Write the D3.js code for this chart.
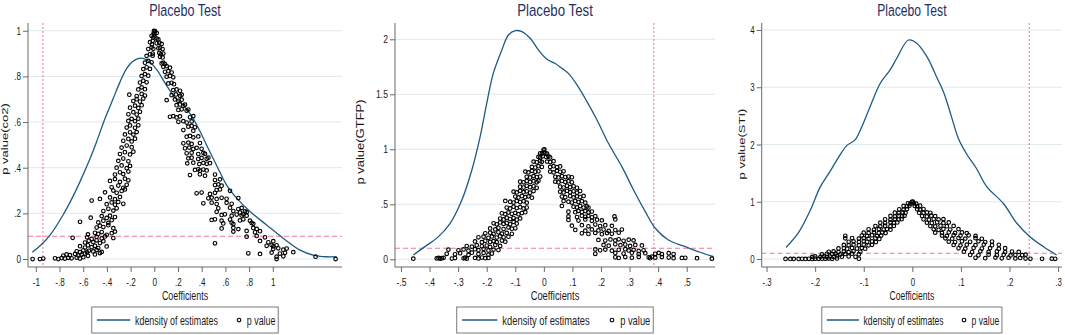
<!DOCTYPE html>
<html>
<head>
<meta charset="utf-8">
<script src="https://cdn.jsdelivr.net/npm/d3@7/dist/d3.min.js"></script>
<style>
  body { margin: 0; background: #fff; }
  text { font-family: "Liberation Sans", Arial, sans-serif; }
</style>
</head>
<body>
<div id="chart"></div>
<script>
//Titles
const plotTitles = ["Placebo Test", "Placebo Test", "Placebo Test"];
const yTitles = ["p value(co2)", "p value(GTFP)", "p value(STI)"];
const xTitle = "Coefficients";
const legendLabels = ["kdensity of estimates", "p value"];

//Ticks
const xTicks1 = [-1, -0.8, -0.6, -0.4, -0.2, 0, 0.2, 0.4, 0.6, 0.8, 1];
const xTicks2 = [-0.5, -0.4, -0.3, -0.2, -0.1, 0, 0.1, 0.2, 0.3, 0.4, 0.5];
const xTicks3 = [-0.3, -0.2, -0.1, 0, 0.1, 0.2, 0.3];
const yTicks1 = [0, 0.2, 0.4, 0.6, 0.8, 1];
const yTicks2 = [0, 0.5, 1, 1.5, 2];
const yTicks3 = [0, 1, 2, 3, 4];

//Reference lines (true coefficient, 10% level)
const trueCoef = [-0.94, 0.385, 0.2406];
const pCut = 0.1;

//Kernel density of placebo estimates: [coef, density]
const curve1 = [[-1.03,0.03],[-0.95,0.065],[-0.88,0.105],[-0.77,0.193],[-0.7,0.26],[-0.627,0.339],[-0.55,0.43],
  [-0.487,0.514],[-0.42,0.61],[-0.346,0.704],[-0.29,0.775],[-0.233,0.835],[-0.19,0.862],[-0.149,0.876],[-0.093,0.879],
  [-0.037,0.862],[0.02,0.83],[0.104,0.76],[0.17,0.71],[0.245,0.674],[0.31,0.63],[0.385,0.56],[0.45,0.49],[0.526,0.41],
  [0.61,0.324],[0.71,0.258],[0.81,0.207],[0.948,0.149],[1.09,0.09],[1.23,0.039],[1.34,0.0175],[1.45,0.01],[1.54,0.01]];
const curve2 = [[-0.457,0.039],[-0.416,0.115],[-0.369,0.206],[-0.328,0.327],[-0.287,0.539],[-0.252,0.812],[-0.223,1.115],
  [-0.2,1.418],[-0.177,1.69],[-0.147,1.903],[-0.124,2.039],[-0.1,2.078],[-0.077,2.07],[-0.048,2.009],[-0.019,1.903],
  [0.011,1.818],[0.04,1.78],[0.063,1.736],[0.086,1.69],[0.116,1.585],[0.151,1.433],[0.186,1.266],[0.226,1.055],
  [0.273,0.842],[0.314,0.63],[0.355,0.433],[0.39,0.282],[0.436,0.175],[0.495,0.115],[0.547,0.064],[0.594,0.024]];
const curve3 = [[-0.26,0.2],[-0.235,0.45],[-0.21,0.85],[-0.19,1.25],[-0.17,1.52],[-0.15,1.8],[-0.135,1.98],[-0.118,2.08],
  [-0.104,2.31],[-0.087,2.66],[-0.066,3.07],[-0.046,3.3],[-0.032,3.506],[-0.008,3.825],[0.009,3.77],[0.03,3.534],
  [0.05,3.18],[0.065,2.9],[0.08,2.5],[0.095,2.1],[0.112,1.83],[0.132,1.58],[0.153,1.263],[0.187,0.973],[0.215,0.624],
  [0.242,0.39],[0.27,0.215],[0.297,0.07]];

//p values of placebo estimates: [coef, p]
const points1 = [
  [-1.027,0],[-0.965,0],[-0.937,0.002],[-0.838,0.003],[-0.81,0],[-0.782,0.004],[-0.754,0.002],[-0.726,0.005],[-0.698,0.003],[-0.655,0.006],[-0.627,0.002],[-0.599,0.008],
  [-0.768,0.015],[-0.74,0.02],[-0.712,0.017],[-0.669,0.022],[-0.641,0.015],[-0.613,0.019],[-0.585,0.024],[-0.56,0.014],[-0.501,0.02],[-0.459,0.026],
  [-0.655,0.034],[-0.627,0.03],[-0.599,0.038],[-0.567,0.029],[-0.553,0.036],[-0.515,0.033],[-0.487,0.04],[-0.444,0.031],
  [-0.627,0.056],[-0.585,0.05],[-0.56,0.06],[-0.529,0.052],[-0.501,0.058],[-0.473,0.048],[-0.402,0.055],
  [-0.585,0.072],[-0.553,0.08],[-0.515,0.074],[-0.487,0.082],[-0.459,0.07],[-0.43,0.078],
  [-0.689,0.093],[-0.567,0.095],[-0.529,0.088],[-0.487,0.097],[-0.444,0.09],[-0.416,0.099],[-0.346,0.092],
  [-0.56,0.108],[-0.501,0.115],[-0.473,0.11],[-0.444,0.118],[-0.402,0.106],[-0.36,0.113],[-0.332,0.12],
  [-0.487,0.138],[-0.459,0.146],[-0.43,0.14],[-0.388,0.148],[-0.346,0.135],
  [-0.627,0.163],[-0.473,0.16],[-0.43,0.168],[-0.388,0.158],[-0.36,0.17],
  [-0.537,0.181],[-0.444,0.188],[-0.402,0.18],[-0.374,0.19],[-0.332,0.184],
  [-0.43,0.21],[-0.388,0.22],[-0.346,0.212],[-0.318,0.222],
  [-0.402,0.24],[-0.36,0.248],[-0.332,0.238],[-0.304,0.25],[-0.262,0.242],
  [-0.529,0.256],[-0.459,0.263],[-0.374,0.27],[-0.332,0.262],[-0.29,0.272],
  [-0.416,0.292],[-0.346,0.3],[-0.318,0.29],[-0.276,0.298],[-0.248,0.305],
  [-0.36,0.314],[-0.304,0.322],[-0.262,0.312],[-0.233,0.325],
  [-0.374,0.342],[-0.332,0.35],[-0.29,0.338],[-0.248,0.352],[-0.219,0.345],
  [-0.332,0.37],[-0.29,0.38],[-0.262,0.372],[-0.219,0.383],
  [-0.318,0.4],[-0.276,0.41],[-0.233,0.398],[-0.205,0.408],
  [-0.304,0.43],[-0.262,0.44],[-0.219,0.428],
  [-0.29,0.46],[-0.248,0.468],[-0.205,0.458],[-0.177,0.47],
  [-0.276,0.488],[-0.233,0.497],[-0.191,0.49],
  [-0.262,0.518],[-0.219,0.526],[-0.191,0.515],[-0.163,0.527],
  [-0.248,0.546],[-0.205,0.555],[-0.177,0.545],[-0.149,0.556],
  [-0.233,0.576],[-0.205,0.585],[-0.163,0.575],[-0.135,0.586],
  [-0.219,0.605],[-0.191,0.614],[-0.163,0.604],[-0.135,0.615],
  [-0.219,0.634],[-0.177,0.643],[-0.149,0.633],[-0.121,0.645],
  [-0.205,0.663],[-0.163,0.672],[-0.135,0.662],[-0.107,0.674],
  [-0.177,0.692],[-0.149,0.7],[-0.121,0.69],[-0.093,0.703],
  [-0.211,0.72],[-0.149,0.714],[-0.107,0.723],[-0.079,0.716],
  [-0.135,0.743],[-0.107,0.752],[-0.079,0.744],
  [-0.121,0.773],[-0.093,0.781],[-0.065,0.774],
  [-0.107,0.802],[-0.079,0.81],[-0.051,0.803],
  [-0.093,0.832],[-0.065,0.84],[-0.037,0.833],
  [-0.079,0.86],[-0.051,0.868],[-0.023,0.862],
  [-0.065,0.89],[-0.037,0.897],[-0.014,0.891],
  [-0.051,0.92],[-0.023,0.927],[-0.008,0.921],
  [-0.037,0.95],[-0.014,0.956],[-0.01,0.97],[-0.02,0.94],
  [-0.023,0.978],[-0.003,0.984],[-0.005,0.99],[0.002,0.975],
  [-0.003,1.0],[0.006,0.998],
  [0.006,0.996],[0.02,0.99],[0.02,0.966],[0.034,0.962],
  [0.02,0.945],[0.042,0.948],[0.062,0.942],
  [0.034,0.923],[0.048,0.926],[0.07,0.92],
  [-0.014,0.9],[0.042,0.903],[0.056,0.897],[0.076,0.9],
  [0.048,0.886],[0.07,0.883],
  [0.062,0.857],[0.076,0.86],[0.09,0.854],
  [0.076,0.842],[0.104,0.845],[0.132,0.838],
  [0.09,0.82],[0.118,0.823],[0.146,0.817],
  [0.104,0.799],[0.132,0.802],[0.16,0.796],
  [0.118,0.769],[0.146,0.772],[0.166,0.766],
  [0.16,0.74],[0.188,0.743],[0.217,0.737],
  [0.146,0.718],[0.183,0.721],[0.217,0.715],[0.231,0.72],
  [0.104,0.696],[0.174,0.699],[0.203,0.693],[0.231,0.698],
  [0.188,0.674],[0.217,0.677],[0.245,0.671],[0.259,0.676],
  [0.203,0.653],[0.231,0.656],[0.273,0.65],[0.287,0.655],
  [0.132,0.623],[0.16,0.626],[0.188,0.62],[0.217,0.625],[0.301,0.621],[0.329,0.626],
  [0.203,0.601],[0.245,0.604],[0.273,0.598],[0.315,0.603],
  [0.287,0.58],[0.315,0.583],[0.343,0.577],
  [0.245,0.565],[0.329,0.562],
  [0.273,0.536],[0.301,0.539],[0.329,0.533],[0.371,0.537],
  [0.245,0.507],[0.287,0.51],[0.315,0.504],[0.385,0.508],
  [0.259,0.485],[0.295,0.488],[0.329,0.482],[0.357,0.487],[0.399,0.483],
  [0.273,0.463],[0.315,0.466],[0.371,0.46],[0.414,0.465],[0.428,0.461],
  [0.287,0.441],[0.315,0.444],[0.371,0.438],[0.399,0.443],[0.442,0.439],[0.456,0.444],
  [0.278,0.419],[0.329,0.422],[0.38,0.416],[0.414,0.421],[0.442,0.417],[0.47,0.42],
  [0.343,0.39],[0.371,0.393],[0.385,0.387],[0.414,0.392],[0.442,0.388],
  [0.301,0.368],[0.385,0.371],[0.428,0.365],[0.512,0.37],
  [0.512,0.346],[0.554,0.349],
  [0.512,0.324],[0.54,0.327],[0.568,0.321],
  [0.526,0.302],[0.554,0.305],[0.639,0.299],
  [0.357,0.288],[0.399,0.291],[0.47,0.285],[0.512,0.29],
  [0.456,0.266],[0.484,0.269],[0.526,0.263],[0.568,0.268],[0.61,0.264],[0.709,0.267],
  [0.414,0.244],[0.484,0.247],[0.526,0.241],[0.61,0.246],[0.653,0.242],
  [0.54,0.222],[0.639,0.225],[0.709,0.219],[0.737,0.224],
  [0.526,0.207],[0.667,0.21],[0.723,0.204],[0.765,0.209],[0.779,0.205],
  [0.568,0.193],[0.596,0.196],[0.653,0.19],[0.695,0.195],[0.737,0.191],[0.751,0.196],[0.779,0.19],
  [0.484,0.171],[0.512,0.174],[0.568,0.168],[0.639,0.173],[0.723,0.169],[0.751,0.174],[0.807,0.168],
  [0.582,0.156],[0.653,0.159],[0.667,0.153],[0.821,0.158],[0.835,0.154],
  [0.568,0.134],[0.667,0.137],[0.709,0.131],[0.835,0.136],[0.864,0.132],
  [0.667,0.12],[0.779,0.123],[0.85,0.117],[0.892,0.122],
  [0.779,0.098],[0.864,0.101],[0.934,0.095],
  [0.512,0.069],[0.892,0.079],[0.962,0.073],[1.004,0.078],
  [0.948,0.058],[0.99,0.061],[1.004,0.055],[1.032,0.06],
  [1.004,0.044],[1.046,0.047],[1.089,0.041],[1.117,0.046],
  [0.793,0.025],[0.892,0.022],[0.99,0.028],[1.06,0.024],[1.103,0.027],[1.173,0.03],
  [1.032,0.01],[1.089,0.012],[1.361,0.01],[1.53,0],[1.032,0]
];
const points2 = [
  [-0.457,0.005],[-0.375,0.008],[-0.369,0.012],[-0.363,0.006],[-0.357,0.01],[-0.351,0.014],[-0.322,0.007],[-0.311,0.011],[-0.281,0.009],[-0.276,0.015],[-0.27,0.006],[-0.241,0.013],[-0.229,0.008],[-0.217,0.016],[-0.205,0.01],[-0.194,0.012],
  [-0.34,0.05],[-0.311,0.045],[-0.293,0.055],[-0.264,0.04],[-0.252,0.06],[-0.229,0.048],[-0.211,0.058],[-0.194,0.042],[-0.182,0.052],
  [-0.334,0.088],[-0.299,0.082],[-0.281,0.09],[-0.264,0.078],[-0.241,0.092],[-0.229,0.083],[-0.211,0.095],[-0.194,0.08],[-0.176,0.088],[-0.159,0.084],
  [-0.27,0.12],[-0.252,0.115],[-0.235,0.128],[-0.217,0.118],[-0.2,0.125],[-0.188,0.112],[-0.17,0.13],[-0.153,0.122],
  [-0.241,0.162],[-0.217,0.156],[-0.205,0.168],[-0.188,0.158],[-0.176,0.165],[-0.165,0.155],[-0.147,0.17],[-0.135,0.16],
  [-0.229,0.2],[-0.211,0.206],[-0.194,0.195],[-0.182,0.208],[-0.165,0.198],[-0.153,0.21],[-0.141,0.2],[-0.124,0.205],
  [-0.205,0.236],[-0.188,0.242],[-0.176,0.23],[-0.159,0.245],[-0.147,0.233],[-0.13,0.24],[-0.112,0.232],
  [-0.188,0.28],[-0.17,0.272],[-0.159,0.286],[-0.141,0.275],[-0.124,0.29],[-0.112,0.278],[-0.1,0.282],
  [-0.176,0.327],[-0.165,0.318],[-0.153,0.335],[-0.141,0.322],[-0.13,0.33],[-0.118,0.318],[-0.106,0.34],[-0.095,0.325],
  [-0.153,0.37],[-0.141,0.362],[-0.13,0.378],[-0.118,0.366],[-0.106,0.375],[-0.095,0.36],[-0.083,0.372],
  [-0.147,0.418],[-0.135,0.41],[-0.124,0.426],[-0.112,0.414],[-0.1,0.422],[-0.089,0.41],[-0.077,0.42],[-0.065,0.428],
  [-0.13,0.47],[-0.118,0.462],[-0.106,0.478],[-0.095,0.466],[-0.083,0.474],[-0.071,0.462],[-0.06,0.47],
  [-0.135,0.53],[-0.118,0.524],[-0.106,0.516],[-0.095,0.53],[-0.083,0.52],[-0.071,0.528],[-0.06,0.515],
  [-0.1,0.57],[-0.089,0.562],[-0.077,0.575],[-0.065,0.565],[-0.054,0.572],[-0.042,0.56],
  [-0.106,0.615],[-0.095,0.608],[-0.083,0.622],[-0.071,0.61],[-0.06,0.618],[-0.048,0.606],[-0.036,0.62],
  [-0.083,0.66],[-0.071,0.652],[-0.06,0.668],[-0.048,0.656],[-0.036,0.664],[-0.025,0.65],
  [-0.083,0.706],[-0.071,0.7],[-0.06,0.712],[-0.048,0.702],[-0.036,0.71],[-0.025,0.7],[-0.019,0.715],
  [-0.06,0.75],[-0.048,0.744],[-0.036,0.756],[-0.025,0.748],[-0.013,0.752],
  [-0.065,0.797],[-0.054,0.79],[-0.042,0.804],[-0.03,0.795],[-0.019,0.8],
  [-0.042,0.84],[-0.03,0.834],[-0.019,0.846],[-0.007,0.84],
  [-0.036,0.888],[-0.025,0.882],[-0.013,0.894],[-0.007,0.886],
  [-0.019,0.93],[-0.013,0.924],[-0.004,0.936],
  [-0.013,0.964],[-0.007,0.96],[-0.001,0.97],
  [-0.001,0.995],[0.002,1.0],
  [0.005,0.965],[0.011,0.96],
  [0.008,0.93],[0.016,0.935],[0.022,0.926],
  [0.011,0.888],[0.022,0.884],[0.034,0.892],
  [0.022,0.84],[0.034,0.846],[0.046,0.838],[0.057,0.844],
  [0.022,0.797],[0.034,0.79],[0.046,0.804],[0.057,0.795],[0.069,0.8],
  [0.04,0.75],[0.051,0.744],[0.063,0.756],[0.075,0.748],[0.086,0.752],[0.098,0.745],
  [0.04,0.706],[0.051,0.7],[0.063,0.712],[0.075,0.702],[0.086,0.71],[0.098,0.7],
  [0.057,0.66],[0.069,0.652],[0.081,0.668],[0.092,0.656],[0.104,0.664],[0.116,0.65],
  [0.057,0.615],[0.069,0.608],[0.081,0.622],[0.092,0.61],[0.104,0.618],[0.116,0.606],[0.127,0.62],
  [0.063,0.57],[0.075,0.565],[0.092,0.575],[0.104,0.562],[0.116,0.572],[0.127,0.566],[0.139,0.576],
  [0.069,0.53],[0.086,0.524],[0.098,0.516],[0.11,0.53],[0.121,0.52],[0.133,0.528],[0.145,0.515],
  [0.063,0.485],[0.104,0.478],[0.116,0.472],[0.127,0.484],[0.139,0.47],[0.15,0.48],[0.156,0.47],
  [0.086,0.433],[0.11,0.428],[0.121,0.44],[0.133,0.43],[0.145,0.438],[0.156,0.426],[0.168,0.434],
  [0.086,0.39],[0.116,0.384],[0.133,0.396],[0.145,0.386],[0.156,0.394],[0.168,0.382],[0.18,0.392],[0.247,0.39],
  [0.086,0.358],[0.121,0.352],[0.145,0.362],[0.168,0.35],[0.186,0.36],[0.203,0.354],[0.25,0.362],
  [0.098,0.305],[0.133,0.31],[0.156,0.3],[0.18,0.316],[0.197,0.302],[0.215,0.31],[0.238,0.304],
  [0.11,0.267],[0.145,0.26],[0.168,0.272],[0.191,0.262],[0.209,0.27],[0.227,0.258],[0.25,0.266],[0.273,0.27],
  [0.133,0.236],[0.156,0.23],[0.18,0.24],[0.203,0.228],[0.221,0.238],[0.238,0.232],[0.262,0.242],
  [0.191,0.176],[0.215,0.17],[0.233,0.18],[0.25,0.172],[0.262,0.182],[0.279,0.168],[0.297,0.178],[0.314,0.172],
  [0.209,0.13],[0.227,0.124],[0.25,0.136],[0.268,0.128],[0.285,0.134],[0.302,0.122],[0.32,0.13],[0.343,0.126],
  [0.18,0.09],[0.197,0.082],[0.215,0.088],[0.238,0.078],[0.262,0.086],[0.285,0.092],[0.297,0.08],[0.314,0.085],[0.332,0.075],[0.349,0.082],
  [0.18,0.05],[0.25,0.058],[0.279,0.052],[0.308,0.06],[0.332,0.048],[0.355,0.055],[0.39,0.05],[0.402,0.058],[0.413,0.046],[0.437,0.055],[0.454,0.048],
  [0.25,0.018],[0.262,0.012],[0.285,0.02],[0.308,0.015],[0.332,0.022],[0.367,0.018],[0.372,0.01],[0.378,0.024],[0.39,0.015],[0.413,0.02],[0.437,0.016],[0.454,0.01],[0.483,0.012],[0.495,0.014],[0.536,0.01],[0.588,0.006]
];
const points3 = [
  [-0.261,0],[-0.251,0],[-0.244,0.002],[-0.234,0],[-0.227,0.003],[-0.22,0],[-0.213,0.004],[-0.206,0.001],[-0.2,0.005],[-0.193,0.002],[-0.186,0.006],[-0.179,0.003],[-0.172,0.008],[-0.165,0.004],[-0.155,0.01],[-0.11,0.005],
  [-0.206,0.035],[-0.2,0.045],[-0.189,0.038],[-0.182,0.046],[-0.176,0.034],[-0.169,0.042],[-0.162,0.036],[-0.155,0.048],[-0.145,0.04],[-0.131,0.044],[-0.117,0.038],
  [-0.186,0.082],[-0.176,0.09],[-0.165,0.085],[-0.158,0.094],[-0.148,0.08],[-0.138,0.088],[-0.124,0.092],[-0.11,0.084],
  [-0.172,0.125],[-0.162,0.132],[-0.152,0.122],[-0.141,0.13],[-0.131,0.12],[-0.121,0.134],[-0.107,0.126],
  [-0.152,0.184],[-0.141,0.19],[-0.134,0.18],[-0.124,0.192],[-0.114,0.182],[-0.104,0.19],[-0.097,0.18],
  [-0.141,0.245],[-0.131,0.24],[-0.121,0.25],[-0.11,0.242],[-0.1,0.252],[-0.09,0.238],[-0.083,0.248],
  [-0.131,0.3],[-0.121,0.308],[-0.11,0.298],[-0.1,0.31],[-0.093,0.3],[-0.083,0.306],[-0.075,0.296],
  [-0.138,0.36],[-0.124,0.366],[-0.11,0.356],[-0.1,0.364],[-0.09,0.354],[-0.076,0.362],[-0.068,0.35],
  [-0.138,0.405],[-0.104,0.41],[-0.093,0.402],[-0.083,0.414],[-0.073,0.404],[-0.064,0.41],
  [-0.1,0.46],[-0.09,0.454],[-0.079,0.466],[-0.069,0.456],[-0.062,0.464],[-0.055,0.452],
  [-0.09,0.518],[-0.079,0.51],[-0.069,0.524],[-0.059,0.514],[-0.052,0.522],[-0.045,0.512],
  [-0.076,0.576],[-0.066,0.568],[-0.056,0.582],[-0.045,0.572],[-0.038,0.578],
  [-0.066,0.635],[-0.056,0.628],[-0.045,0.64],[-0.038,0.63],[-0.031,0.638],
  [-0.056,0.693],[-0.045,0.686],[-0.036,0.698],[-0.028,0.69],[-0.022,0.696],
  [-0.045,0.751],[-0.036,0.744],[-0.028,0.756],[-0.021,0.748],[-0.016,0.754],
  [-0.036,0.809],[-0.028,0.802],[-0.02,0.814],[-0.014,0.806],
  [-0.027,0.868],[-0.018,0.862],[-0.011,0.872],
  [-0.018,0.926],[-0.011,0.92],[-0.006,0.93],
  [-0.009,0.972],[-0.004,0.966],
  [-0.001,0.998],[0.001,1.0],
  [0.003,0.972],[0.008,0.966],
  [0.005,0.926],[0.01,0.92],[0.016,0.93],
  [0.01,0.868],[0.016,0.862],[0.023,0.872],
  [0.014,0.809],[0.023,0.802],[0.03,0.814],[0.037,0.806],
  [0.02,0.751],[0.03,0.744],[0.039,0.756],[0.047,0.748],
  [0.023,0.693],[0.034,0.686],[0.044,0.698],[0.054,0.69],[0.064,0.696],
  [0.03,0.635],[0.04,0.628],[0.051,0.64],[0.064,0.63],[0.075,0.638],
  [0.037,0.576],[0.047,0.568],[0.058,0.582],[0.071,0.572],[0.085,0.578],
  [0.044,0.518],[0.054,0.51],[0.064,0.524],[0.078,0.514],[0.095,0.522],
  [0.047,0.46],[0.061,0.454],[0.075,0.466],[0.088,0.456],[0.102,0.464],[0.112,0.452],
  [0.061,0.41],[0.071,0.404],[0.085,0.416],[0.099,0.406],[0.116,0.414],[0.13,0.402],
  [0.068,0.36],[0.082,0.354],[0.095,0.366],[0.109,0.356],[0.13,0.364],[0.143,0.352],
  [0.075,0.303],[0.088,0.296],[0.102,0.31],[0.119,0.3],[0.136,0.308],[0.15,0.296],[0.164,0.304],
  [0.085,0.245],[0.099,0.238],[0.112,0.25],[0.13,0.24],[0.147,0.252],[0.164,0.24],[0.178,0.248],
  [0.095,0.186],[0.109,0.18],[0.126,0.192],[0.143,0.182],[0.16,0.19],[0.178,0.18],[0.191,0.188],
  [0.106,0.128],[0.123,0.122],[0.14,0.134],[0.157,0.124],[0.174,0.132],[0.191,0.12],[0.205,0.13],[0.219,0.124],
  [0.119,0.07],[0.136,0.064],[0.157,0.076],[0.174,0.066],[0.188,0.074],[0.202,0.062],[0.212,0.072],[0.226,0.066],[0.233,0.076],
  [0.13,0.02],[0.15,0.014],[0.171,0.024],[0.184,0.012],[0.198,0.022],[0.212,0.01],[0.222,0.018],[0.233,0.008],[0.243,0.004],[0.267,0.004],[0.287,0.006],[0.294,0.004]
];

//Panel layout (pixels) and axis ranges
const panels = [
  { left: 28,    right: 342,  xDom: [-1.066, 1.584], yDom: [-0.035, 1.034], xTicks: xTicks1, yTicks: yTicks1, curve: curve1, pts: points1, sx: 0.74,  yTitleX: 8,   yTitleY: 139 },
  { left: 395,   right: 715,  xDom: [-0.521, 0.599], yDom: [-0.07, 2.148],  xTicks: xTicks2, yTicks: yTicks2, curve: curve2, pts: points2, sx: 0.78,  yTitleX: 364, yTitleY: 142 },
  { left: 761.7, right: 1062, xDom: [-0.31, 0.308],  yDom: [-0.14, 4.122],  xTicks: xTicks3, yTicks: yTicks3, curve: curve3, pts: points3, sx: 0.715, yTitleX: 745, yTitleY: 144 }
];
const plotTop = 23, plotBottom = 267;

const navy = "#1d5b84", pink = "#f27a9c", gridCol = "#dfe9ee", axisCol = "#6a6a6a";

//Stata style labels: -.8, .2
function fmt(v) {
  if (v === 0) return "0";
  return String(+v.toFixed(2)).replace(/^(-?)0\./, "$1.");
}

const svg = d3.select("#chart").append("svg")
  .attr("width", 1065).attr("height", 335)
  .style("background", "#fff");

function addText(g, x, y, str, size, sx, anchor, color, rot) {
  return g.append("text")
    .attr("transform", "translate(" + x + "," + y + ") scale(" + sx + ",1)" + (rot ? " rotate(-90)" : ""))
    .attr("text-anchor", anchor)
    .style("font-size", size + "px")
    .attr("fill", color)
    .text(str);
}

panels.forEach(function(p, i) {
  const x = d3.scaleLinear().domain(p.xDom).range([p.left, p.right]);
  const y = d3.scaleLinear().domain(p.yDom).range([plotBottom, plotTop]);
  const g = svg.append("g");
  const cx = (p.left + p.right) / 2;

  //Gridlines
  g.selectAll(".grid").data(p.yTicks).enter().append("line")
    .attr("x1", p.left).attr("x2", p.right)
    .attr("y1", d => y(d)).attr("y2", d => y(d))
    .attr("stroke", gridCol).attr("stroke-width", 1);

  //Reference lines
  g.append("line")
    .attr("x1", p.left).attr("x2", p.right)
    .attr("y1", y(pCut)).attr("y2", y(pCut))
    .attr("stroke", pink).attr("stroke-width", 1.1).attr("stroke-dasharray", "5,3");
  g.append("line")
    .attr("x1", x(trueCoef[i])).attr("x2", x(trueCoef[i]))
    .attr("y1", plotTop).attr("y2", plotBottom)
    .attr("stroke", pink).attr("stroke-width", 1.1).attr("stroke-dasharray", "2,2");

  //Density line
  g.append("path").datum(p.curve)
    .attr("fill", "none").attr("stroke", navy).attr("stroke-width", 1.3)
    .attr("d", d3.line().x(d => x(d[0])).y(d => y(d[1])).curve(d3.curveCatmullRom));

  //p value markers
  g.selectAll(".pt").data(p.pts).enter().append("circle")
    .attr("cx", d => x(d[0])).attr("cy", d => y(d[1]))
    .attr("r", 1.8).attr("fill", "none").attr("stroke", "#000").attr("stroke-width", 1.15);

  //Axes
  const xAxis = g.append("g").attr("transform", "translate(0," + plotBottom + ")")
    .call(d3.axisBottom(x).tickValues(p.xTicks).tickFormat(fmt).tickSize(5).tickSizeOuter(0).tickPadding(6));
  const yAxis = g.append("g").attr("transform", "translate(" + p.left + ",0)")
    .call(d3.axisLeft(y).tickValues(p.yTicks).tickFormat(fmt).tickSize(5).tickSizeOuter(0).tickPadding(7 / p.sx - 5));
  [xAxis, yAxis].forEach(function(a) {
    a.select(".domain").attr("stroke", axisCol);
    a.selectAll(".tick line").attr("stroke", axisCol);
    a.selectAll(".tick text")
      .attr("fill", "#1a1a1a")
      .style("font-size", "11px")
      .style("font-family", "'Liberation Sans', Arial, sans-serif")
      .attr("transform", "scale(" + p.sx + ",1)");
  });
  xAxis.select(".domain").attr("d", "M" + p.left + ",0H" + p.right);
  yAxis.select(".domain").attr("d", "M0," + plotTop + "V" + plotBottom);

  //Titles
  addText(g, cx, 16, plotTitles[i], 17, p.sx, "middle", "#1f2f5f", false);
  addText(g, cx, 299.5, xTitle, 12, p.sx, "middle", "#1a1a1a", false);
  addText(g, p.yTitleX, p.yTitleY, yTitles[i], 13, p.sx, "middle", "#1a1a1a", true);

  //Legend
  const W0 = 252;
  const lx = cx - W0 * p.sx / 2;
  g.append("rect")
    .attr("x", lx).attr("y", 307).attr("width", W0 * p.sx).attr("height", 26)
    .attr("fill", "#fff").attr("stroke", "#7a7a7a").attr("stroke-width", 1);
  g.append("line")
    .attr("x1", lx + 7 * p.sx).attr("x2", lx + 52 * p.sx)
    .attr("y1", 320).attr("y2", 320)
    .attr("stroke", navy).attr("stroke-width", 1.3);
  addText(g, lx + 58.5 * p.sx, 325, legendLabels[0], 12, p.sx, "start", "#1a1a1a", false);
  g.append("circle")
    .attr("cx", lx + 199 * p.sx).attr("cy", 320).attr("r", 1.8)
    .attr("fill", "none").attr("stroke", "#000").attr("stroke-width", 1.15);
  addText(g, lx + 209.5 * p.sx, 325, legendLabels[1], 12, p.sx, "start", "#1a1a1a", false);
});
</script>
</body>
</html>
